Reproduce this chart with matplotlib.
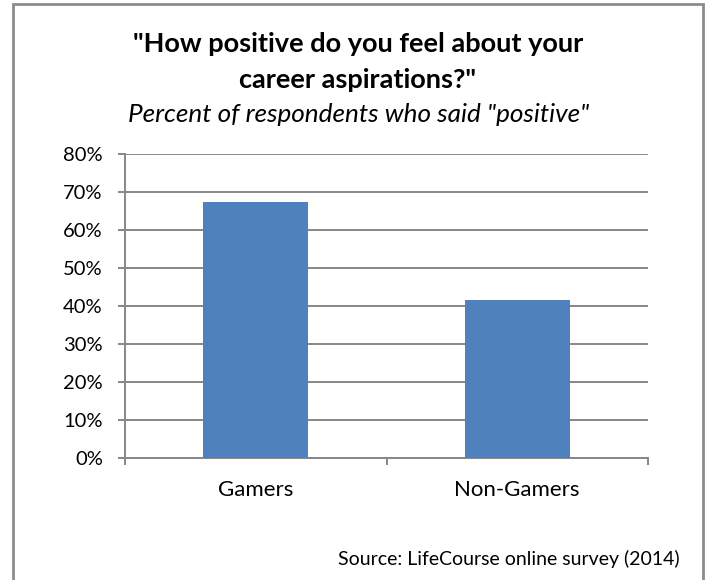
import matplotlib
matplotlib.use("Agg")
import matplotlib.pyplot as plt
from matplotlib.patches import Rectangle
from matplotlib.ticker import FuncFormatter

categories = ["Gamers", "Non-Gamers"]
positive_share = [67.3, 41.6]
y_ticks = [0, 10, 20, 30, 40, 50, 60, 70, 80]

W, H = 708, 580
plt.rcParams["font.family"] = ["Lato", "DejaVu Sans"]

fig = plt.figure(figsize=(W / 100, H / 100), dpi=100)
fig.patch.set_facecolor("white")

# outer frame of the chart area (open at the bottom)
fig.patches.append(Rectangle((13 / W, -0.05), 690 / W, (576 / H) + 0.05,
                             transform=fig.transFigure, fill=False,
                             edgecolor="#8c8c8c", linewidth=2))

ax = fig.add_axes([125 / W, (H - 458) / H, 523 / W, 304 / H])
ax.bar(range(len(categories)), positive_share, width=0.4, color="#4F81BD", zorder=3)

ax.set_xlim(-0.5, 1.5)
ax.set_ylim(0, 80)
ax.set_yticks(y_ticks)
ax.yaxis.set_major_formatter(FuncFormatter(lambda v, p: f"{v:.0f}%"))
# category boundaries carry the tick marks, labels sit at bar centres
ax.set_xticks([-0.5, 0.5, 1.5])
ax.set_xticklabels([])
ax.set_xticks(range(len(categories)), minor=True)
ax.set_xticklabels(categories, minor=True)

grid_c = "#878787"
ax.grid(axis="y", color=grid_c, linewidth=1.4, zorder=0)
for side in ["top", "right"]:
    ax.spines[side].set_visible(False)
for side in ["left", "bottom"]:
    ax.spines[side].set_color(grid_c)
    ax.spines[side].set_linewidth(1.4)
ax.tick_params(axis="y", which="major", length=5, color=grid_c, width=1.4,
               labelsize=14.5, pad=11)
ax.tick_params(axis="x", which="major", length=5, color=grid_c, width=1.4)
ax.tick_params(axis="x", which="minor", length=0, labelsize=16, pad=16)

fig.text(358 / W, 1 - 52 / H, "\"How positive do you feel about your",
         ha="center", va="baseline", fontsize=19.5, fontweight="bold")
fig.text(358 / W, 1 - 88 / H, "career aspirations?\"",
         ha="center", va="baseline", fontsize=19.5, fontweight="bold")
fig.text(359 / W, 1 - 122 / H, "Percent of respondents who said \"positive\"",
         ha="center", va="baseline", fontsize=18.8, fontstyle="italic")
fig.text(680 / W, 1 - 565 / H, "Source: LifeCourse online survey (2014)",
         ha="right", va="baseline", fontsize=14)

fig.savefig("out.png", dpi=100)
